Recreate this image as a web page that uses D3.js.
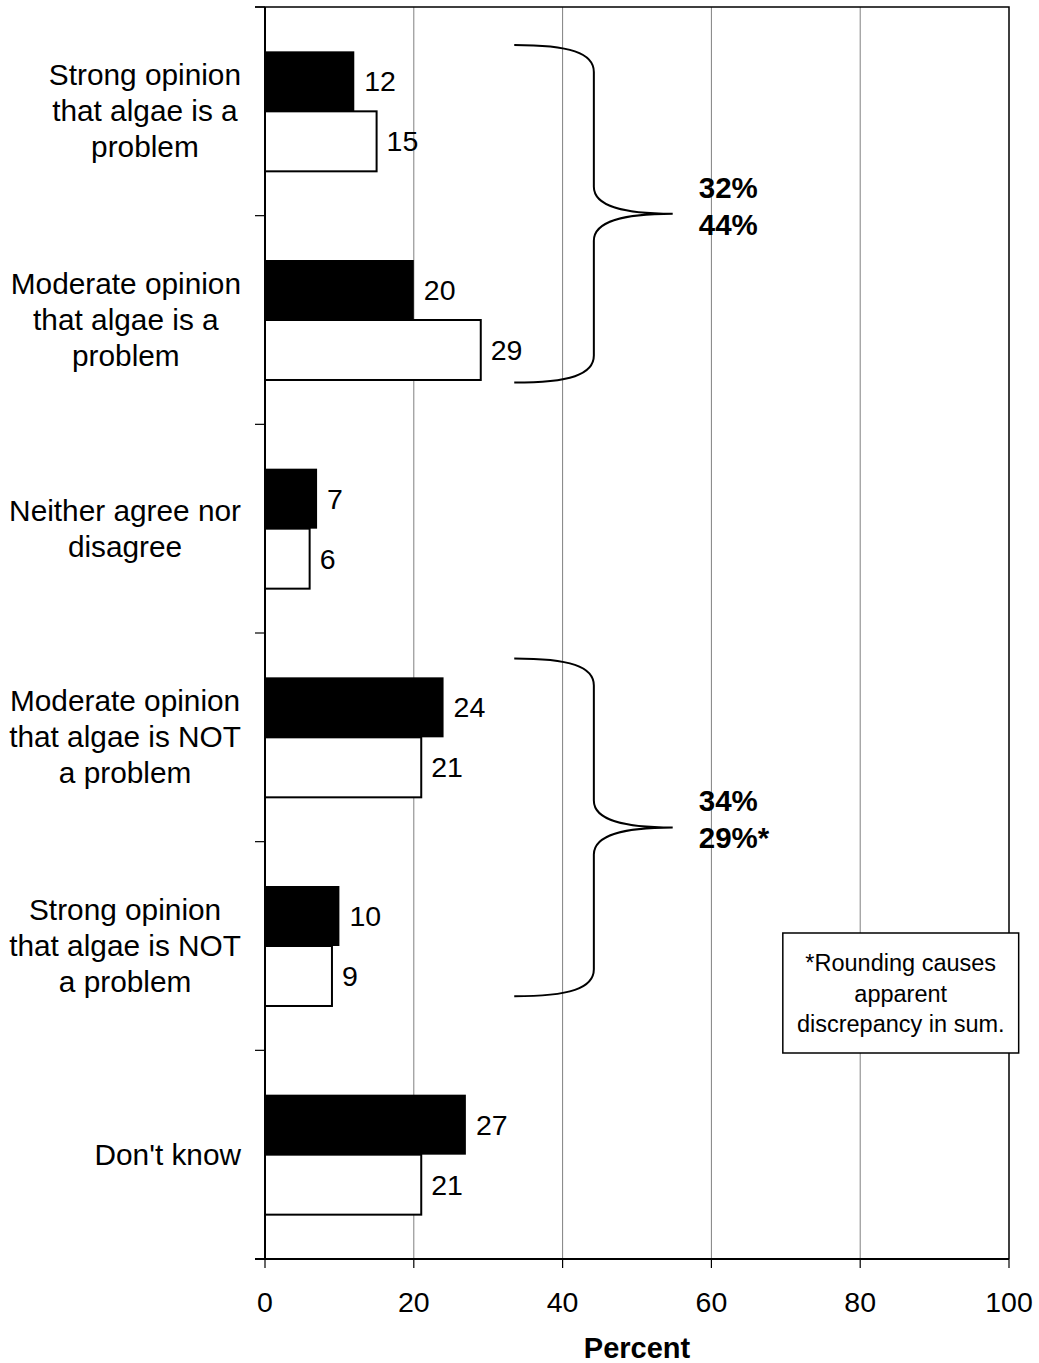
<!DOCTYPE html>
<html>
<head>
<meta charset="utf-8">
<script src="https://cdn.jsdelivr.net/npm/d3@7/dist/d3.min.js"></script>
<style>
  html, body { margin: 0; padding: 0; background: #fff; }
  svg { display: block; font-family: "Liberation Sans", Arial, sans-serif; }
</style>
</head>
<body>
<svg id="chart" width="1039" height="1363"></svg>
<script>
// Survey responses: opinion on whether algae is a problem (percent)
const categories = [
  ["Strong opinion", "that algae is a", "problem"],
  ["Moderate opinion", "that algae is a", "problem"],
  ["Neither agree nor", "disagree"],
  ["Moderate opinion", "that algae is NOT", "a problem"],
  ["Strong opinion", "that algae is NOT", "a problem"],
  ["Don't know"]
];
const blackSeries = [12, 20, 7, 24, 10, 27];
const whiteSeries = [15, 29, 6, 21, 9, 21];
const xTicks = [0, 20, 40, 60, 80, 100];
const axisTitle = "Percent";
// Grouped totals shown beside the braces (black / white)
const groupTotals = [
  { from: 0, to: 1, labels: ["32%", "44%"] },
  { from: 3, to: 4, labels: ["34%", "29%*"] }
];
const noteLines = ["*Rounding causes", "apparent", "discrepancy in sum."];

const svg = d3.select("#chart");
const plot = { left: 265, right: 1009, top: 7, bottom: 1259 };

const x = d3.scaleLinear().domain([0, 100]).range([plot.left, plot.right]);
const band = d3.scaleBand()
  .domain(d3.range(categories.length))
  .range([plot.top, plot.bottom])
  .paddingInner(0).paddingOuter(0);
const bw = band.bandwidth();
// continuous position in "category units" for annotations
const yPos = d3.scaleLinear().domain([0, categories.length]).range([plot.top, plot.bottom]);

const barH = bw * 0.2875;
const barOffset = bw / 2 - barH;

// vertical gridlines
svg.append("g")
  .selectAll("line")
  .data(xTicks.filter(t => t > 0 && t < 100))
  .join("line")
  .attr("x1", d => x(d)).attr("x2", d => x(d))
  .attr("y1", plot.top).attr("y2", plot.bottom)
  .attr("stroke", "#808080").attr("stroke-width", 1);

// plot frame (top and right)
svg.append("path")
  .attr("d", `M${plot.left - 10},${plot.top}H${plot.right}V${plot.bottom}`)
  .attr("fill", "none").attr("stroke", "#000").attr("stroke-width", 1.5);

// bars
const groups = svg.append("g").selectAll("g")
  .data(categories.map((c, i) => ({ i, b: blackSeries[i], w: whiteSeries[i] })))
  .join("g");

groups.append("rect")
  .attr("x", x(0))
  .attr("y", d => band(d.i) + barOffset)
  .attr("width", d => x(d.b) - x(0))
  .attr("height", barH)
  .attr("fill", "#000");

groups.append("rect")
  .attr("x", x(0))
  .attr("y", d => band(d.i) + barOffset + barH)
  .attr("width", d => x(d.w) - x(0))
  .attr("height", barH)
  .attr("fill", "#fff")
  .attr("stroke", "#000").attr("stroke-width", 2);

// value labels
groups.append("text")
  .attr("x", d => x(d.b) + 10)
  .attr("y", d => band(d.i) + barOffset + barH / 2 + 10)
  .attr("font-size", 28.5)
  .text(d => d.b);
groups.append("text")
  .attr("x", d => x(d.w) + 10)
  .attr("y", d => band(d.i) + barOffset + barH * 1.5 + 10)
  .attr("font-size", 28.5)
  .text(d => d.w);

// y axis (category boundaries as ticks)
const yAxis = svg.append("g");
yAxis.append("line")
  .attr("x1", plot.left).attr("x2", plot.left)
  .attr("y1", plot.top).attr("y2", plot.bottom)
  .attr("stroke", "#000").attr("stroke-width", 2);
yAxis.selectAll("line.tick")
  .data(d3.range(categories.length + 1))
  .join("line").attr("class", "tick")
  .attr("x1", plot.left - 10).attr("x2", plot.left)
  .attr("y1", d => yPos(d)).attr("y2", d => yPos(d))
  .attr("stroke", "#000").attr("stroke-width", 1.2);

// category labels: centred lines, block right-aligned against the axis
const labelRight = 241;
const lineGap = 36;
categories.forEach((lines, i) => {
  const g = svg.append("g");
  const cy = band(i) + bw / 2;
  const texts = lines.map((ln, k) =>
    g.append("text")
      .attr("font-size", 29.8)
      .attr("text-anchor", "middle")
      .attr("y", cy + 10 + (k - (lines.length - 1) / 2) * lineGap)
      .text(ln));
  const maxW = d3.max(texts, t => t.node().getComputedTextLength());
  texts.forEach(t => t.attr("x", labelRight - maxW / 2));
});

// x axis
const xAxis = svg.append("g");
xAxis.append("line")
  .attr("x1", plot.left - 10).attr("x2", plot.right)
  .attr("y1", plot.bottom).attr("y2", plot.bottom)
  .attr("stroke", "#000").attr("stroke-width", 2);
xAxis.selectAll("line.tick")
  .data(xTicks)
  .join("line").attr("class", "tick")
  .attr("x1", d => x(d)).attr("x2", d => x(d))
  .attr("y1", plot.bottom).attr("y2", plot.bottom + 9)
  .attr("stroke", "#000").attr("stroke-width", 1.2);
xAxis.selectAll("text")
  .data(xTicks)
  .join("text")
  .attr("x", d => x(d))
  .attr("y", plot.bottom + 53)
  .attr("text-anchor", "middle")
  .attr("font-size", 28.5)
  .text(d => d);

svg.append("text")
  .attr("x", x(50))
  .attr("y", 1358)
  .attr("text-anchor", "middle")
  .attr("font-size", 29)
  .attr("font-weight", "bold")
  .text(axisTitle);

// braces grouping the opinion categories, with totals
const braceSpans = [
  { top: 0.182, tip: 0.991, bottom: 1.800 },
  { top: 3.122, tip: 3.932, bottom: 4.741 }
];
const xEnd = x(33.5), xSpine = x(44.2), xTip = x(54.8);
const c = 27;
function bracePath(yt, ym, yb) {
  const k = xEnd + 0.7 * (xSpine - xEnd);
  const kt = xSpine + 0.4 * (xTip - xSpine);
  return `M${xEnd},${yt}` +
    `C${k},${yt} ${xSpine},${yt + 0.3 * c} ${xSpine},${yt + c}` +
    `L${xSpine},${ym - c}` +
    `C${xSpine},${ym - 0.25 * c} ${kt},${ym} ${xTip},${ym}` +
    `C${kt},${ym} ${xSpine},${ym + 0.25 * c} ${xSpine},${ym + c}` +
    `L${xSpine},${yb - c}` +
    `C${xSpine},${yb - 0.3 * c} ${k},${yb} ${xEnd},${yb}`;
}
groupTotals.forEach((grp, gi) => {
  const s = braceSpans[gi];
  const ym = yPos(s.tip);
  svg.append("path")
    .attr("d", bracePath(yPos(s.top), ym, yPos(s.bottom)))
    .attr("fill", "none").attr("stroke", "#000").attr("stroke-width", 2);
  grp.labels.forEach((lab, k) => {
    svg.append("text")
      .attr("x", x(58.3))
      .attr("y", ym - 16 + k * 37)
      .attr("font-size", 29.5)
      .attr("font-weight", "bold")
      .text(lab);
  });
});

// rounding note
const note = svg.append("g");
note.append("rect")
  .attr("x", x(69.6)).attr("y", 933)
  .attr("width", x(101.3) - x(69.6)).attr("height", 120)
  .attr("fill", "#fff").attr("stroke", "#000").attr("stroke-width", 1.5);
note.selectAll("text")
  .data(noteLines)
  .join("text")
  .attr("x", (x(69.6) + x(101.3)) / 2)
  .attr("y", (d, i) => 971 + i * 30.5)
  .attr("text-anchor", "middle")
  .attr("font-size", 23.5)
  .text(d => d);
</script>
</body>
</html>
